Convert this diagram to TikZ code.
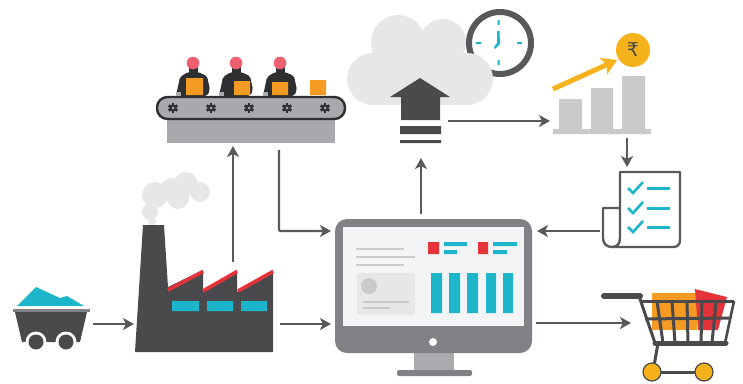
\documentclass[tikz,border=0pt]{standalone}
\usepackage{fontspec}
\newfontfamily\rupeefont{DejaVu Sans}
\usetikzlibrary{arrows.meta}
\definecolor{ink}{HTML}{58595B}
\definecolor{darkink}{HTML}{4A4A4C}
\definecolor{nearblack}{HTML}{2E2F31}
\definecolor{teal}{HTML}{1CB5C9}
\definecolor{redaccent}{HTML}{E5333A}
\definecolor{orangebox}{HTML}{F59A23}
\definecolor{goldc}{HTML}{F6B21B}
\definecolor{pinkhat}{HTML}{EE6070}
\definecolor{cloudc}{HTML}{E6E7E9}
\definecolor{barc}{HTML}{C9CACC}
\definecolor{beltc}{HTML}{A7A9AC}
\definecolor{framec}{HTML}{808285}
\definecolor{screenc}{HTML}{F3F4F6}
\definecolor{midgray}{HTML}{A9ABAE}
\tikzset{
  flow/.style={draw=ink,line width=2.1pt,-{Stealth[length=11pt,width=12pt,inset=3pt]}},
  gear/.pic={
    \fill[nearblack] (0,0) circle (3.6);
    \foreach \a in {0,60,...,300}{\fill[nearblack,rotate=\a] (-1.3,-5) rectangle (1.3,0);}
    \fill[beltc] (0,0) circle (1.5);
  },
  worker/.pic={
    \fill[nearblack,rounded corners=2pt] (-17,33) -- (-13,14) -- (-5,9) -- (5,9) -- (14,13) -- (17,27) -- (14,33) -- cycle;
    \fill[nearblack] (-4.5,3) rectangle (4.5,11);
    \fill[pinkhat] (0,0) circle (6.3);
    \fill[midgray] (-17,29) rectangle (-12,33);
  },
  thinline/.style={line width=1.3pt,draw=barc},
}
\begin{document}
\begin{tikzpicture}[x=1pt,y=-1pt]
\useasboundingbox (0,0) rectangle (743,383);
% connection anchors
\coordinate (minecartE) at (93,324);
\coordinate (factoryW) at (134,324);
\coordinate (factoryE) at (280,324);
\coordinate (factoryN) at (233,262);
\coordinate (monitorW) at (331,324);
\coordinate (monitorWt) at (331,231);
\coordinate (beltS) at (233,146);
\coordinate (beltSb) at (279,150);
\coordinate (bendA) at (279,231);
\coordinate (monitorN) at (421,214);
\coordinate (uploadS) at (421,158);
\coordinate (uploadE) at (448,121);
\coordinate (barsW) at (550,121);
\coordinate (barsS) at (627,138);
\coordinate (docN) at (627,167);
\coordinate (docW) at (600,231);
\coordinate (monitorE) at (537,231);
\coordinate (monitorEb) at (536,323);
\coordinate (shopW) at (631,323);

% mine cart
\fill[teal] (17,306) -- (36,287) -- (60,298) -- (67,296) -- (84,306) -- cycle;
\fill[framec] (13,309) rectangle (90,312);
\fill[darkink] (15,312) -- (87,312) -- (80,342) -- (22,342) -- cycle;
\foreach \x in {36,66}{
  \fill[white] (\x,342) circle (10.5);
  \fill[darkink] (\x,342) circle (7.5);
}

% factory
\fill[cloudc] (150,212) circle (8) (155,195) circle (13) (172,190) circle (12) (186,184) circle (12) (200,192) circle (10) (178,198) circle (11) (152,222) circle (4);
\fill[darkink] (143,225) -- (164,225) -- (168,287) -- (203,270) -- (203,292) -- (237,270) -- (237,292) -- (273,270) -- (273,352) -- (135,352) -- cycle;
\draw[redaccent,line width=3.6pt] (168,290) -- (203,271.5);
\draw[redaccent,line width=3.6pt] (203,291) -- (237,271.5);
\draw[redaccent,line width=3.6pt] (238,291) -- (273,271.5);
\fill[teal] (172,301) rectangle (199,311) (207,301) rectangle (233,311) (241,301) rectangle (267,311);

% conveyor
\fill[beltc] (167,120) rectangle (335,143);
\draw[nearblack,fill=beltc,line width=2.4pt,rounded corners=10.5pt] (157,97) rectangle (345,119);
\foreach \x in {173,211,249,287,325}{\pic at (\x,108) {gear};}
\pic at (193,63) {worker};
\pic at (236,63) {worker};
\pic at (280,63) {worker};
\fill[orangebox] (186,78) rectangle (203,95) (234,81) rectangle (250,95) (272,82) rectangle (288,95) (310,80) rectangle (326,95);

% clock
\draw[ink,fill=white,line width=6pt] (500,43) circle (31);
\fill[teal] (497.5,20) rectangle (499.5,25) (497.5,60) rectangle (499.5,65) (476,42) rectangle (481,44) (517,42) rectangle (522,44);
\fill[teal] (497,31) -- (499.5,31) -- (500,44) -- (495,49) -- (494,47) -- (497,43) -- cycle;

% cloud
\fill[cloudc] (373,79) circle (26) (398,42) circle (27) (443,42) circle (23) (467,79) circle (26) (420,65) circle (35);
\fill[cloudc] (373,75) rectangle (467,105);

% upload arrow
\fill[darkink] (390,97) -- (420,78) -- (450,97) -- (440,97) -- (440,120) -- (401,120) -- (401,97) -- cycle;
\fill[darkink] (400,126) rectangle (441,134) (400,140) rectangle (441,143);

% bars
\fill[barc] (553,129) rectangle (651,134) (559,99) rectangle (582,129) (591,88) rectangle (613,129) (622,76) rectangle (645,129);
\draw[goldc,line width=5pt,-{Stealth[length=15pt,width=18pt,inset=4pt]}] (553,89) -- (617,60);
\fill[goldc] (633,50) circle (17);
\node[inner sep=0pt,text=darkink,font=\rupeefont\fontsize{19}{19}\selectfont] (rupee) at (633,50) {₹};

% document
\draw[ink,line width=2.4pt,line join=round] (620,208) -- (620,172) -- (680,172) -- (680,240) .. controls (680,245) and (677,247) .. (673,247) -- (612,247);
\draw[ink,line width=2.4pt,line join=round] (620,208) -- (603,208) -- (603,238) .. controls (603,244) and (607,247) .. (612,247) .. controls (617,247) and (620,244) .. (620,238) -- (620,208);
\foreach \y in {188,208,227}{
  \draw[teal,line width=2.6pt] (628,\y) -- (633,\y+5) -- (643,\y-6);
  \draw[teal,line width=2.4pt] (647,\y+0.5) -- (670,\y+0.5);
}

% monitor
\fill[midgray] (414,352) rectangle (454,371);
\fill[framec,rounded corners=2pt] (397,370) rectangle (472,376);
\fill[framec,rounded corners=12pt] (335,219) rectangle (532,353);
\fill[screenc] (343,227) rectangle (524,326);
\fill[white] (433,342) circle (4);
\draw[thinline] (356,249) -- (404,249);
\draw[thinline] (356,257) -- (415,257);
\draw[thinline] (356,265) -- (404,265);
\fill[cloudc,rounded corners=3pt] (357,273) rectangle (415,315);
\fill[barc] (369,286) circle (8);
\draw[thinline] (363,302) -- (409,302);
\draw[thinline] (363,308) -- (390,308);
\fill[redaccent] (428,242) rectangle (439,254) (478,242) rectangle (488,254);
\fill[teal] (444,242) rectangle (467,246) (444,250) rectangle (457,254) (493,242) rectangle (517,246) (493,250) rectangle (507,254);
\fill[teal] (431,273) rectangle (442,313) (449,273) rectangle (460,313) (467,273) rectangle (478,313) (486,273) rectangle (496,313) (503,273) rectangle (513,313);

% shopping cart
\fill[orangebox] (652,293) rectangle (697,330);
\fill[redaccent] (695,289) -- (727,297) -- (718,330) -- (698,330) -- cycle;
\draw[darkink,line width=6pt,line cap=round] (604,296) -- (640,296);
\draw[darkink,line width=3pt] (639,296) -- (655,343);
\draw[darkink,line width=3pt] (640,301) -- (734,301);
\draw[darkink,line width=3pt] (645,319) -- (730,318);
\draw[darkink,line width=2.6pt] (734,301) -- (725,343);
\foreach \a/\b in {657/663,672/675,687/688,702/701,716/712}{
  \draw[darkink,line width=3pt] (\a,301) -- (\b,343);
}
\draw[darkink,line width=5pt,line cap=round] (655,343) -- (726,343);
\draw[darkink,line width=3pt] (658,343) -- (653,372);
\draw[darkink,line width=3pt] (652,372) -- (704,372);
\foreach \x in {652,704}{
  \draw[darkink,fill=goldc,line width=1.2pt] (\x,372) circle (9);
}

% connectors
\draw[flow] (minecartE) -- (factoryW);
\draw[flow] (factoryE) -- (monitorW);
\draw[flow] (factoryN) -- (beltS);
\draw[flow,rounded corners=1pt] (beltSb) -- (bendA) -- (monitorWt);
\draw[flow] (monitorN) -- (uploadS);
\draw[flow] (uploadE) -- (barsW);
\draw[flow] (barsS) -- (docN);
\draw[flow] (docW) -- (monitorE);
\draw[flow] (monitorEb) -- (shopW);
\end{tikzpicture}
\end{document}
